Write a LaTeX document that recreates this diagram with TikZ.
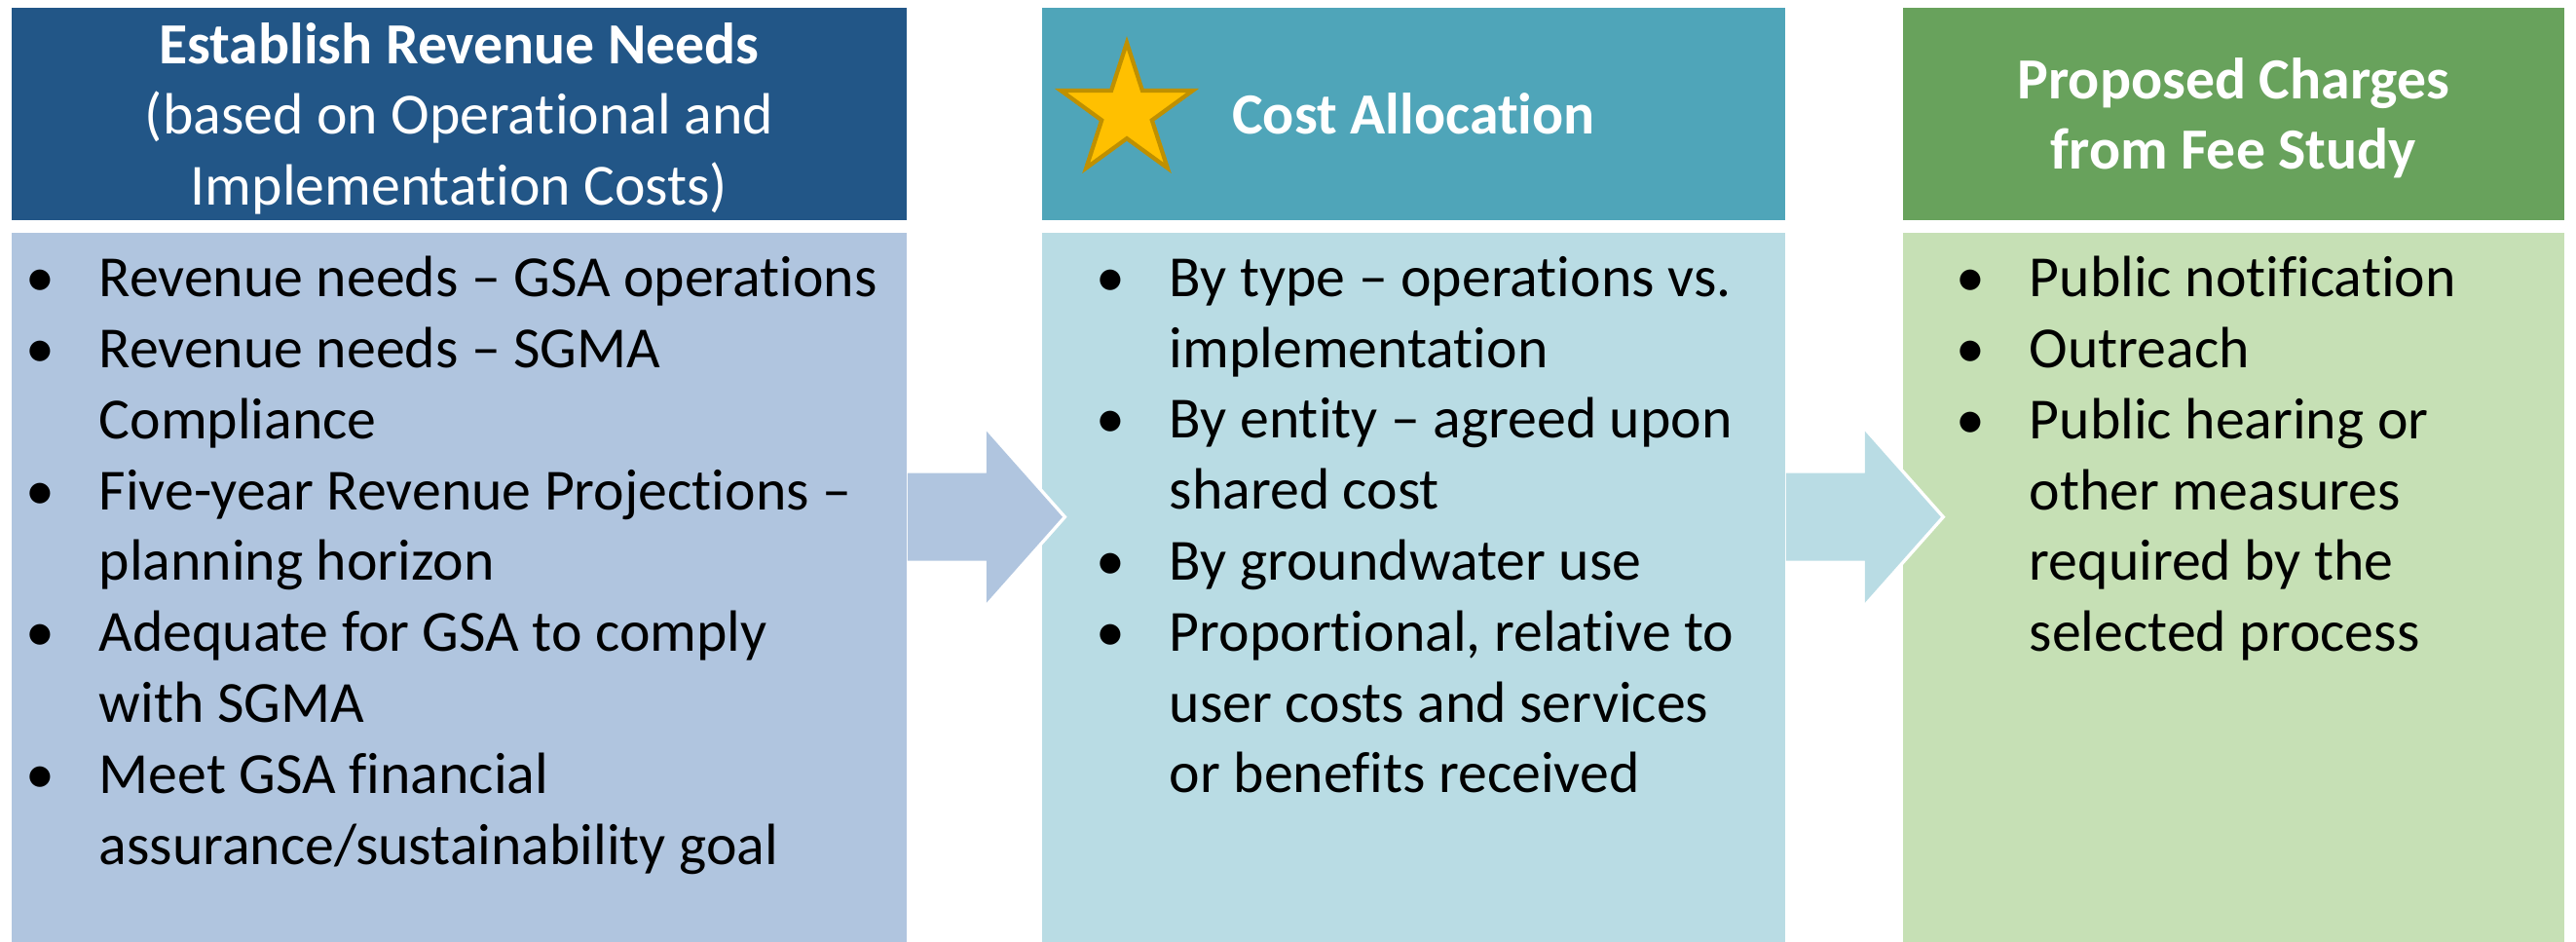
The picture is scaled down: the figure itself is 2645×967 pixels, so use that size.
\documentclass[tikz,border=0pt]{standalone}
\usepackage{fontspec}
\setmainfont{Carlito}[Ligatures=NoCommon]
\usepackage{tikz}
\usetikzlibrary{positioning,shapes.geometric}
\definecolor{headone}{RGB}{34,86,135}
\definecolor{bodyone}{RGB}{176,197,223}
\definecolor{headtwo}{RGB}{79,165,185}
\definecolor{bodytwo}{RGB}{185,220,228}
\definecolor{headthree}{RGB}{104,162,92}
\definecolor{bodythree}{RGB}{198,224,181}
\definecolor{starfill}{RGB}{255,192,0}
\definecolor{staredge}{RGB}{191,144,0}
\newlength{\bulw}
\setlength{\bulw}{0.60cm}
\newcommand{\itm}[1]{\noindent\hangindent=\bulw\hangafter=1\makebox[\bulw][l]{\makebox[0pt]{\textbullet}}#1\par}
\newcommand{\headfont}{\fontsize{17pt}{20.6pt}\selectfont}
\newcommand{\listfont}{\fontsize{17pt}{20.7pt}\selectfont\hyphenpenalty=10000\relax}
\tikzset{
  head/.style={anchor=north west, minimum height=2.18cm, inner sep=0pt, text=white, align=center, text depth=0pt, font=\headfont},
  body/.style={minimum height=7.30cm, inner sep=0pt},
  list/.style={anchor=north west, inner sep=0pt, text width=10cm, align=flush left, font=\listfont}
}

\begin{document}
\begin{tikzpicture}[x=0.01cm,y=-0.01cm]
  \useasboundingbox (0,0) rectangle (2645,967);

  \node[head, fill=headone, minimum width=9.19cm] (head1) at (11,7)
    {\textbf{Establish Revenue Needs}\\(based on Operational and\\Implementation Costs)};
  \node[body, fill=bodyone, minimum width=9.19cm, below=0.12cm of head1] (body1) {};

  \node[head, fill=headtwo, minimum width=7.63cm] (head2) at (1069,7) {\textbf{Cost Allocation}};
  \node[body, fill=bodytwo, minimum width=7.63cm, below=0.12cm of head2] (body2) {};

  \node[head, fill=headthree, minimum width=6.79cm] (head3) at (1953,7)
    {\textbf{Proposed Charges}\\\textbf{from Fee Study}};
  \node[body, fill=bodythree, minimum width=6.79cm, below=0.12cm of head3] (body3) {};

  \node[star, star points=5, star point ratio=2.618, minimum size=1.42cm, inner sep=0pt,
        fill=starfill, draw=staredge, line width=1.2pt] (star) at (1157,115) {};

  % block arrows between the columns
  \coordinate (a1) at ([yshift=-2.92cm]body1.north east);
  \draw[white, line width=0.07cm, line join=miter] (a1) ++(81,-88) -- ++(78,88) -- ++(-78,88);
  \fill[bodyone] (a1) ++(0,-45) -- ++(81,0) -- ++(0,-43) -- ++(78,88) -- ++(-78,88) -- ++(0,-43) -- ++(-81,0) -- cycle;
  \coordinate (a2) at ([yshift=-2.92cm]body2.north east);
  \draw[white, line width=0.07cm, line join=miter] (a2) ++(81,-88) -- ++(78,88) -- ++(-78,88);
  \fill[bodytwo] (a2) ++(0,-45) -- ++(81,0) -- ++(0,-43) -- ++(78,88) -- ++(-78,88) -- ++(0,-43) -- ++(-81,0) -- cycle;

  \node[list] (list1) at ([xshift=0.30cm,yshift=-0.24cm]body1.north west) {%
    \itm{Revenue needs – GSA operations}
    \itm{Revenue needs – SGMA\newline Compliance}
    \itm{Five-year Revenue Projections –\newline planning horizon}
    \itm{Adequate for GSA to comply\newline with SGMA}
    \itm{Meet GSA financial\newline assurance/sustainability goal}};
  \node[list] (list2) at ([xshift=0.71cm,yshift=-0.24cm]body2.north west) {%
    \itm{By type – operations vs.\newline implementation}
    \itm{By entity – agreed upon\newline shared cost}
    \itm{By groundwater use}
    \itm{Proportional, relative to\newline user costs and services\newline or benefits received}};
  \node[list] (list3) at ([xshift=0.70cm,yshift=-0.24cm]body3.north west) {%
    \itm{Public notification}
    \itm{Outreach}
    \itm{Public hearing or\newline other measures\newline required by the\newline selected process}};
\end{tikzpicture}
\end{document}
